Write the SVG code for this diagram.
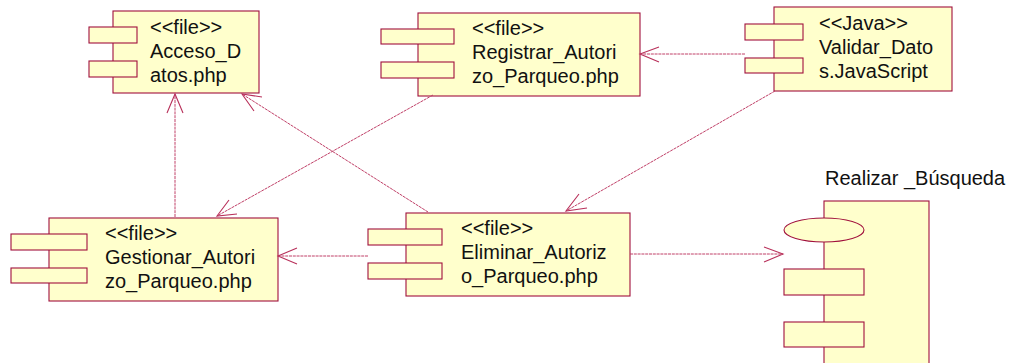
<svg xmlns="http://www.w3.org/2000/svg" width="1013" height="363" viewBox="0 0 1013 363">
<style>
.b{fill:#ffffcc;stroke:#a0103c;stroke-width:1.1}
.t{font-family:"Liberation Sans",Arial,sans-serif;font-size:20px;fill:#111}
.c{fill:none;stroke:#c04068;stroke-width:1;stroke-dasharray:3 0.8}
.h{fill:none;stroke:#b8305a;stroke-width:1.1}
</style>
<rect width="1013" height="363" fill="#fff"/>
<g id="acceso">
<rect class="b" x="113" y="11" width="146" height="82"/>
<rect class="b" x="89" y="27" width="48" height="16"/>
<rect class="b" x="89" y="61" width="48" height="16"/>
<text class="t" x="150" y="34">&lt;&lt;file&gt;&gt;</text>
<text class="t" x="150" y="58">Acceso_D</text>
<text class="t" x="150" y="82">atos.php</text>
</g>
<g id="registrar">
<rect class="b" x="418" y="13" width="222" height="83"/>
<rect class="b" x="381" y="29" width="73" height="15"/>
<rect class="b" x="381" y="62" width="73" height="16"/>
<text class="t" x="472" y="35">&lt;&lt;file&gt;&gt;</text>
<text class="t" x="472" y="59">Registrar_Autori</text>
<text class="t" x="472" y="83">zo_Parqueo.php</text>
</g>
<g id="validar">
<rect class="b" x="774" y="7" width="178" height="84"/>
<rect class="b" x="745" y="24" width="58" height="16"/>
<rect class="b" x="745" y="58" width="58" height="15"/>
<text class="t" x="819" y="30">&lt;&lt;Java&gt;&gt;</text>
<text class="t" x="819" y="54">Validar_Dato</text>
<text class="t" x="819" y="78">s.JavaScript</text>
</g>
<g id="gestionar">
<rect class="b" x="49" y="218" width="229" height="83"/>
<rect class="b" x="11" y="234" width="76" height="16"/>
<rect class="b" x="11" y="268" width="76" height="15"/>
<text class="t" x="105" y="240">&lt;&lt;file&gt;&gt;</text>
<text class="t" x="105" y="264">Gestionar_Autori</text>
<text class="t" x="105" y="288">zo_Parqueo.php</text>
</g>
<g id="eliminar">
<rect class="b" x="406" y="213" width="224" height="83"/>
<rect class="b" x="368" y="229" width="74" height="16"/>
<rect class="b" x="368" y="263" width="74" height="16"/>
<text class="t" x="461" y="235">&lt;&lt;file&gt;&gt;</text>
<text class="t" x="461" y="259">Eliminar_Autoriz</text>
<text class="t" x="461" y="283">o_Parqueo.php</text>
</g>
<g id="realizar">
<text class="t" x="825" y="185">Realizar _Búsqueda</text>
<rect class="b" x="824" y="201" width="105" height="170"/>
<ellipse class="b" cx="824" cy="230" rx="40" ry="12"/>
<rect class="b" x="784" y="269" width="80" height="26"/>
<rect class="b" x="784" y="322" width="80" height="25"/>
</g>
<g id="connectors">
<line class="c" x1="175" y1="217" x2="175" y2="94"/>
<polyline class="h" points="167,113 175,94 183,113"/>
<line class="c" x1="428" y1="212" x2="242" y2="94"/>
<polyline class="h" points="262,97 242,94 254,111"/>
<line class="c" x1="433" y1="95" x2="217" y2="216"/>
<polyline class="h" points="229,200 217,216 237,214"/>
<line class="c" x1="745" y1="54" x2="640" y2="54"/>
<polyline class="h" points="659,47 640,54 659,62"/>
<line class="c" x1="775" y1="91" x2="566" y2="211"/>
<polyline class="h" points="579,194 566,211 587,208"/>
<line class="c" x1="368" y1="256" x2="278" y2="256"/>
<polyline class="h" points="297,248 278,256 297,264"/>
<line class="c" x1="630" y1="254" x2="783" y2="254"/>
<polyline class="h" points="764,247 783,254 764,262"/>
</g>
</svg>
